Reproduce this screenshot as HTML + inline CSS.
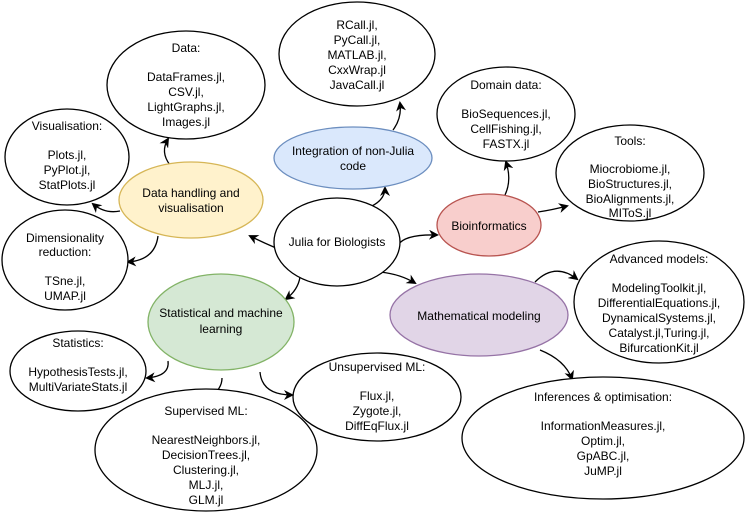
<!DOCTYPE html>
<html><head><meta charset="utf-8"><style>
html,body{margin:0;padding:0;background:#fff}
svg{display:block}
text{font-family:"Liberation Sans",Arial,sans-serif;font-size:12px;fill:#000}
</style></head><body>
<svg width="747" height="513" viewBox="0 0 747 513" xmlns="http://www.w3.org/2000/svg">
<defs><marker id="a" markerWidth="10" markerHeight="10" refX="8" refY="5" orient="auto" markerUnits="userSpaceOnUse"><path d="M0,0 L10,5 L0,10 L3,5 Z" fill="#000"/></marker></defs>
<g fill="none" stroke="#000" stroke-width="1.3" marker-end="url(#a)">
<path d="M170,165 Q160,152 168,139"/>
<path d="M120,211 Q105,214 93,204"/>
<path d="M158,236 Q155,260 128,262"/>
<path d="M276,248 Q262,242 250,236"/>
<path d="M370,207 Q385,200 385,188"/>
<path d="M393,130 Q402,118 400,103"/>
<path d="M398,245 Q405,234 437,235"/>
<path d="M505,195 Q512,180 506,162"/>
<path d="M538,212 Q552,210 567,206"/>
<path d="M380,272 Q400,274 415,283"/>
<path d="M300,277 Q298,290 286,299"/>
<path d="M535,282 Q555,262 577,279"/>
<path d="M540,350 Q565,360 572,379"/>
<path d="M168,361 Q170,376 147,378"/>
<path d="M222,378 Q222,390 208,398"/>
<path d="M260,372 Q262,395 292,395"/>
</g>
<g stroke-width="1.3">
<ellipse cx="186" cy="85" rx="79" ry="54" fill="#fff" stroke="#000"/>
<ellipse cx="67" cy="157" rx="62" ry="48" fill="#fff" stroke="#000"/>
<ellipse cx="191" cy="200" rx="72" ry="38" fill="#fff2cc" stroke="#d6b656"/>
<ellipse cx="65" cy="260" rx="63" ry="50" fill="#fff" stroke="#000"/>
<ellipse cx="357" cy="54" rx="78" ry="52" fill="#fff" stroke="#000"/>
<ellipse cx="353" cy="158" rx="79" ry="31" fill="#dae8fc" stroke="#6c8ebf"/>
<ellipse cx="337" cy="242" rx="63" ry="44" fill="#fff" stroke="#000"/>
<ellipse cx="506" cy="114" rx="69" ry="47" fill="#fff" stroke="#000"/>
<ellipse cx="630" cy="173" rx="74" ry="48" fill="#fff" stroke="#000"/>
<ellipse cx="489" cy="225" rx="52" ry="31" fill="#f8cecc" stroke="#b85450"/>
<ellipse cx="659" cy="302" rx="85" ry="61" fill="#fff" stroke="#000"/>
<ellipse cx="479" cy="315" rx="89" ry="41" fill="#e1d5e7" stroke="#9673a6"/>
<ellipse cx="221" cy="322" rx="73" ry="48" fill="#d5e8d4" stroke="#82b366"/>
<ellipse cx="78" cy="371" rx="68" ry="40" fill="#fff" stroke="#000"/>
<ellipse cx="206" cy="450" rx="111" ry="61" fill="#fff" stroke="#000"/>
<ellipse cx="377" cy="397" rx="84" ry="44" fill="#fff" stroke="#000"/>
<ellipse cx="603" cy="438" rx="141" ry="61" fill="#fff" stroke="#000"/>
</g>
<g text-anchor="middle" dominant-baseline="central">
<text x="186" y="48">Data:</text><text x="186" y="77">DataFrames.jl,</text><text x="186" y="92">CSV.jl,</text><text x="186" y="107">LightGraphs.jl,</text><text x="186" y="122">Images.jl</text>
<text x="67" y="126">Visualisation:</text><text x="67" y="155">Plots.jl,</text><text x="67" y="170">PyPlot.jl,</text><text x="67" y="185">StatPlots.jl</text>
<text x="191" y="193">Data handling and</text><text x="191" y="208">visualisation</text>
<text x="65" y="238">Dimensionality</text><text x="65" y="252">reduction:</text><text x="65" y="281">TSne.jl,</text><text x="65" y="296">UMAP.jl</text>
<text x="357" y="25">RCall.jl,</text><text x="357" y="40">PyCall.jl,</text><text x="357" y="55">MATLAB.jl,</text><text x="357" y="70">CxxWrap.jl</text><text x="357" y="85">JavaCall.jl</text>
<text x="353" y="151">Integration of non-Julia</text><text x="353" y="166">code</text>
<text x="337" y="242">Julia for Biologists</text>
<text x="506" y="85">Domain data:</text><text x="506" y="114">BioSequences.jl,</text><text x="506" y="129">CellFishing.jl,</text><text x="506" y="144">FASTX.jl</text>
<text x="630" y="141">Tools:</text><text x="630" y="169">Miocrobiome.jl,</text><text x="630" y="184">BioStructures.jl,</text><text x="630" y="199">BioAlignments.jl,</text><text x="630" y="213">MIToS.jl</text>
<text x="489" y="226">Bioinformatics</text>
<text x="659" y="259">Advanced models:</text><text x="659" y="288">ModelingToolkit.jl,</text><text x="659" y="303">DifferentialEquations.jl,</text><text x="659" y="318">DynamicalSystems.jl,</text><text x="659" y="333">Catalyst.jl,Turing.jl,</text><text x="659" y="348">BifurcationKit.jl</text>
<text x="479" y="316">Mathematical modeling</text>
<text x="221" y="313">Statistical and machine</text><text x="221" y="329">learning</text>
<text x="78" y="343">Statistics:</text><text x="78" y="372">HypothesisTests.jl,</text><text x="78" y="387">MultiVariateStats.jl</text>
<text x="206" y="411">Supervised ML:</text><text x="206" y="440">NearestNeighbors.jl,</text><text x="206" y="455">DecisionTrees.jl,</text><text x="206" y="470">Clustering.jl,</text><text x="206" y="485">MLJ.jl,</text><text x="206" y="500">GLM.jl</text>
<text x="377" y="367">Unsupervised ML:</text><text x="377" y="396">Flux.jl,</text><text x="377" y="411">Zygote.jl,</text><text x="377" y="426">DiffEqFlux.jl</text>
<text x="603" y="397">Inferences &amp; optimisation:</text><text x="603" y="426">InformationMeasures.jl,</text><text x="603" y="441">Optim.jl,</text><text x="603" y="456">GpABC.jl,</text><text x="603" y="471">JuMP.jl</text>
</g>
</svg>
</body></html>
